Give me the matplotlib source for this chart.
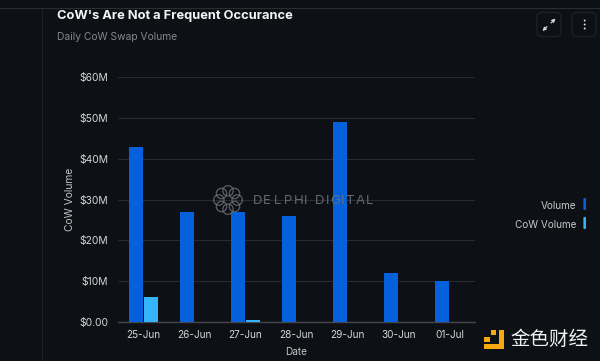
# coding=utf-8

import numpy as np
import matplotlib
matplotlib.use('Agg')
import matplotlib.pyplot as plt
from matplotlib.patches import FancyBboxPatch, Circle, Rectangle
from matplotlib.ticker import FuncFormatter

plt.rcParams['font.family'] = ['Inter', 'DejaVu Sans']

dates = ['25-Jun', '26-Jun', '27-Jun', '28-Jun', '29-Jun', '30-Jun', '01-Jul']
volume = [43, 27, 27, 26, 49, 12, 10]
cow_volume = [6.1, 0, 0.4, 0, 0, 0, 0]
y_ticks = [0, 10, 20, 30, 40, 50, 60]

bg = '#0d1014'
blue = '#0560dc'
cyan = '#35b4fb'
W, H = 600, 361

fig = plt.figure(figsize=(W / 100, H / 100), dpi=100, facecolor=bg)

# page furniture, drawn in pixel coordinates
page = fig.add_axes([0, 0, 1, 1])
page.set_xlim(0, W)
page.set_ylim(H, 0)
page.axis('off')
page.plot([0, W], [8, 8], color='#2a2d31', lw=0.8)
page.plot([41.5, 41.5], [8, H], color='#1e2125', lw=0.8)

page.text(57, 15.5, "CoW's Are Not a Frequent Occurance", color='#f4f4f4',
          fontsize=9.3, fontweight='bold', va='center', ha='left')
page.text(57, 36.5, 'Daily CoW Swap Volume', color='#85888c',
          fontsize=7.4, va='center', ha='left')

# expand and menu buttons
for x0 in [537, 572]:
    page.add_patch(FancyBboxPatch((x0, 12.5), 24, 24,
                                  boxstyle='round,pad=0,rounding_size=5',
                                  fc='none', ec='#1f2226', lw=0.9))
page.annotate('', xy=(555.5, 18.5), xytext=(551, 23),
              arrowprops=dict(arrowstyle='-|>', color='#d8d8d8', lw=0.8,
                              mutation_scale=5, shrinkA=0, shrinkB=0))
page.annotate('', xy=(542.5, 31), xytext=(547, 26.5),
              arrowprops=dict(arrowstyle='-|>', color='#d8d8d8', lw=0.8,
                              mutation_scale=5, shrinkA=0, shrinkB=0))
for yy in [20.5, 24.5, 28.5]:
    page.add_patch(Circle((584.7, yy), 0.95, fc='#e8e8e8', ec='none'))

# bars
ax = fig.add_axes([118 / W, 1 - 322 / H, 357 / W, (322 - 77.3) / H])
ax.set_facecolor('none')
x = np.arange(len(dates))
bw = 14 / 51.0
ax.bar(x - bw / 2 - 0.005, volume, bw, color=blue, zorder=3)
ax.bar(x + bw / 2 + 0.015, cow_volume, bw, color=cyan, zorder=3)
ax.set_xlim(-0.5, 6.5)
ax.set_ylim(0, 60)
ax.set_yticks(y_ticks)
ax.yaxis.set_major_formatter(FuncFormatter(
    lambda v, p: '$0.00' if v == 0 else '$%dM' % v))
ax.set_xticks(x)
ax.set_xticklabels(dates)
ax.tick_params(axis='both', length=0, labelsize=7.2, labelcolor='#d6d6d6')
ax.tick_params(axis='x', pad=6)
ax.tick_params(axis='y', pad=7, labelsize=7.4)
ax.grid(axis='y', color='#272a2e', lw=0.8, zorder=0)
ax.set_axisbelow(True)
for s in ['top', 'right', 'left']:
    ax.spines[s].set_visible(False)
ax.spines['bottom'].set_color('#44474b')
ax.spines['bottom'].set_linewidth(1.0)
ax.set_xlabel('Date', color='#c4c4c4', fontsize=7.2, labelpad=5)
ax.set_ylabel('CoW Volume', color='#c4c4c4', fontsize=7.4, labelpad=3)

# watermark and logo on top of the bars
over = fig.add_axes([0, 0, 1, 1])
over.set_xlim(0, W)
over.set_ylim(H, 0)
over.axis('off')
over.patch.set_alpha(0)
wm = '#6f7276'
for a in np.linspace(0, 2 * np.pi, 8, endpoint=False):
    over.add_patch(Circle((228 + 9.2 * np.cos(a), 200 + 9.2 * np.sin(a)), 5.2,
                          fc='none', ec=wm, lw=0.9, alpha=0.8))
# wide tracking, so one letter at a time
pos = 253.0
for ch in 'DELPHI DIGITAL':
    over.text(pos, 200.5, ch, color=wm, fontsize=9.5, va='center', ha='left',
              alpha=0.9)
    pos += {'I': 4.8, ' ': 6.5}.get(ch, 10.2)

# legend
over.text(576.5, 206, 'Volume', color='#c8c8c8', fontsize=7.2, va='center', ha='right')
over.text(576.5, 224.5, 'CoW Volume', color='#c8c8c8', fontsize=7.2, va='center', ha='right')
for yy, col in [(198, blue), (217, cyan)]:
    over.add_patch(FancyBboxPatch((583.4, yy), 2.6, 12,
                                  boxstyle='round,pad=0,rounding_size=1',
                                  fc=col, ec='none'))

# logo
gold = '#f5a90f'
for (lx, ly, lw_, lh) in [(499, 330, 5, 19), (484, 344, 20, 5),
                          (484, 337, 6, 5), (491, 330, 4.5, 5)]:
    over.add_patch(Rectangle((lx, ly), lw_, lh, fc=gold, ec='none'))
over.text(510, 339.5, '金色财经', color='#f0f0f0', fontsize=14, va='center', ha='left',
          family=['Noto Sans CJK SC', 'DejaVu Sans'])

plt.savefig('out.png', dpi=100, facecolor=bg)
